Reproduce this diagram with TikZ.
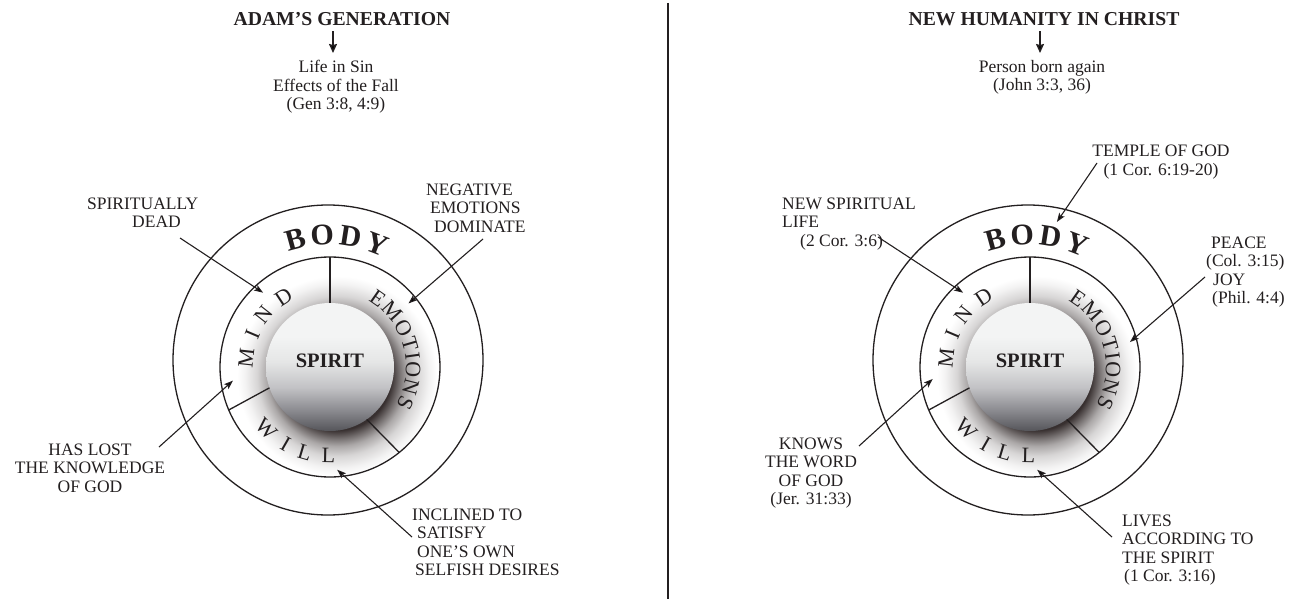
\documentclass[tikz,border=0pt]{standalone}
\usepackage{fontspec}
\setmainfont{Liberation Serif}
\usepackage{xcolor}
\usetikzlibrary{arrows.meta, positioning, calc, decorations.text}

\definecolor{ink}{HTML}{231F20}
\definecolor{haloc}{HTML}{372F2F}
\definecolor{ballbot}{HTML}{55555A}
\definecolor{ballmid}{HTML}{8A8A8F}
\definecolor{ballgr}{HTML}{C2C2C5}
\definecolor{balllt}{HTML}{E5E6E6}
\definecolor{balltop}{HTML}{F3F4F4}

\pgfdeclareradialshading{halo}{\pgfpoint{0bp}{0bp}}{color(0bp)=(haloc); color(13.5bp)=(haloc); color(15.5bp)=(haloc!70!white); color(17.5bp)=(haloc!42!white); color(20bp)=(haloc!20!white); color(23bp)=(haloc!6!white); color(25bp)=(white); color(50bp)=(white)}
\pgfdeclareverticalshading{spiritball}{100bp}{color(0bp)=(ballbot); color(25bp)=(ballbot); color(33bp)=(ballmid); color(42bp)=(ballgr); color(52bp)=(balllt); color(62bp)=(balltop); color(100bp)=(balltop)}

\tikzset{
  lbl/.style={font=\fontsize{17.5}{18.5}\selectfont, text=ink, inner sep=0pt},
  ttl/.style={font=\bfseries\fontsize{19.7}{22}\selectfont, text=ink, inner sep=0pt},
  ring/.style={draw=ink, line width=1.3pt},
  ptr/.style={draw=ink, line width=1.1pt, -{Stealth[length=9pt, width=6.5pt, inset=2pt]}},
  down/.style={draw=ink, line width=1.5pt, -{Stealth[length=9pt, width=8pt, inset=1pt]}},
  arctext/.style={decorate, decoration={text along path, text align=fit to path, text color=ink, text={#1}}}
}
\newcommand{\bodyfnt}{\bfseries\fontsize{30}{30}\selectfont}
\newcommand{\partfnt}{\fontsize{22}{22}\selectfont}

\begin{document}
\begin{tikzpicture}[x=1pt, y=1pt]
\fill[white] (0,0) rectangle (1290,-599);
\useasboundingbox (0,0) rectangle (1290,-599);

% separator
\draw[ink, line width=2.5pt] (668,-3) -- (668,-599);

% the two soul diagrams
\foreach \cx/\side in {330/L, 1030/R}{
  \coordinate (c\side) at (\cx,-367);
  \begin{scope}
    \clip (c\side) circle[radius=110];
    \shade[shading=halo] ($(c\side)+(7,-9)$) circle[radius=100];
  \end{scope}
  \shade[shading=spiritball] (c\side) circle[radius=64];
  \draw[ring] (c\side) circle[radius=110];
  \draw[ring] ($(c\side)+(-2,7)$) circle[radius=155];
  \draw[ink, line width=2.6pt] ($(c\side)+(90:64)$) -- ($(c\side)+(90:110)$);
  \draw[ink, line width=1.3pt] ($(c\side)+(199:64)$) -- ($(c\side)+(203:110)$);
  \draw[ink, line width=1.3pt] ($(c\side)+(-55:64)$) -- ($(c\side)+(-51:110)$);
  \node[font=\bfseries\fontsize{20.5}{22}\selectfont, text=ink] (spirit\side) at ($(c\side)+(0,6)$) {SPIRIT};
  \path[arctext={|\bodyfnt|BODY}] ($(c\side)+(110:122)$) arc[start angle=110, end angle=64, radius=122];
  \path[arctext={|\partfnt|MIND}] ($(c\side)+(181:77)$) arc[start angle=181, end angle=117.5, radius=77];
  \path[arctext={|\partfnt|EMOTIONS}] ($(c\side)+(60:76)$) arc[start angle=60, end angle=-30, radius=76];
  \path[arctext={|\partfnt|WILL}] ($(c\side)+(218:96)$) arc[start angle=218, end angle=273, radius=96];
}

% left side
\node[ttl, anchor=north] (adam) at (342,-12.5) {ADAM’S GENERATION};
\node[lbl, anchor=north, align=center] (sinlife) at (336,-60) {Life in Sin\\Effects of the Fall\\(Gen 3:8, 4:9)};
\draw[down] ([xshift=-3pt, yshift=-5pt]adam.south -| sinlife.north) -- ([xshift=-3pt, yshift=7pt]sinlife.north);

\node[lbl, anchor=north west, align=left] (spdead) at (87,-197.5) {SPIRITUALLY\\\hspace*{45pt}DEAD};
\node[lbl, anchor=north west, align=left] (negemo) at (426,-183.5) {NEGATIVE\\\hspace*{4pt}EMOTIONS\\\hspace*{8pt}DOMINATE};
\node[lbl, anchor=north, align=center] (lostgod) at (90,-443.5) {HAS LOST\\THE KNOWLEDGE\\OF GOD};
\node[lbl, anchor=north west, align=left] (selfish) at (412,-508.5) {INCLINED TO\\\hspace*{5pt}SATISFY\\\hspace*{5pt}ONE’S OWN\\\hspace*{3pt}SELFISH DESIRES};

\coordinate (spdeadT) at (180,-238);
\coordinate (negemoT) at (483,-239);
\coordinate (lostgodT) at (159,-447);
\coordinate (selfishT) at (412,-537);
\coordinate (mindL) at ($(cL)+(132:100)$);
\coordinate (emoL) at ($(cL)+(39:101)$);
\coordinate (lostL) at ($(cL)+(188:98)$);
\coordinate (willL) at ($(cL)+(274:103)$);
\draw[ptr] (spdeadT) -- (mindL);
\draw[ptr] (negemoT) -- (emoL);
\draw[ptr] (lostgodT) -- (lostL);
\draw[ptr] (selfishT) -- (willL);

% right side
\node[ttl, anchor=north] (newhum) at (1044,-12.5) {NEW HUMANITY IN CHRIST};
\node[lbl, anchor=north, align=center] (bornagain) at (1042,-60) {Person born again\\(John 3:3, 36)};
\draw[down] ([xshift=-2pt, yshift=-5pt]newhum.south -| bornagain.north) -- ([xshift=-2pt, yshift=7pt]bornagain.north);

\node[lbl, anchor=north, align=center] (temple) at (1161,-145) {TEMPLE OF GOD\\(1 Cor. 6:19-20)};
\node[lbl, anchor=north west, align=left] (newlife) at (782,-197.5) {NEW SPIRITUAL\\LIFE\\\hspace*{18pt}(2 Cor. 3:6)};
\node[lbl, anchor=north west, align=left] (peace) at (1206,-236.5) {\hspace*{5pt}PEACE\\(Col. 3:15)\\\hspace*{7pt}JOY\\\hspace*{6pt}(Phil. 4:4)};
\node[lbl, anchor=north, align=center] (knows) at (811,-437.5) {KNOWS\\THE WORD\\OF GOD\\(Jer. 31:33)};
\node[lbl, anchor=north west, align=left] (lives) at (1122,-514.5) {LIVES\\ACCORDING TO\\THE SPIRIT\\\hspace*{2pt}(1 Cor. 3:16)};

\coordinate (templeT) at (1097,-163);
\coordinate (newlifeT) at (878,-237);
\coordinate (peaceT) at (1205,-277);
\coordinate (knowsT) at (859,-446);
\coordinate (livesT) at (1112,-537);
\coordinate (bodyR) at ($(cR)+(79.5:147.5)$);
\coordinate (mindR) at ($(cR)+(132:100)$);
\coordinate (emoR) at ($(cR)+(14:103)$);
\coordinate (knowR) at ($(cR)+(187:98)$);
\coordinate (willR) at ($(cR)+(274:103)$);
\draw[ptr] (templeT) -- (bodyR);
\draw[ptr] (newlifeT) -- (mindR);
\draw[ptr] (peaceT) -- (emoR);
\draw[ptr] (knowsT) -- (knowR);
\draw[ptr] (livesT) -- (willR);
\end{tikzpicture}
\end{document}
